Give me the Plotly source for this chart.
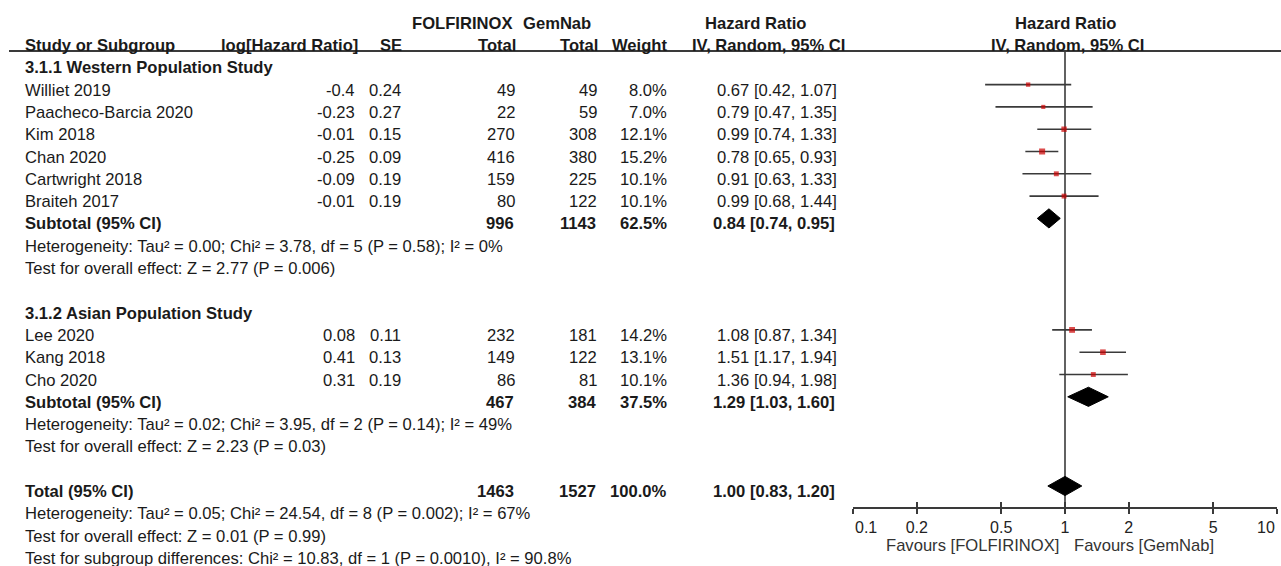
import math
import plotly.graph_objects as go

# ---------------- data ----------------
west_studies = ["Williet 2019", "Paacheco-Barcia 2020", "Kim 2018", "Chan 2020", "Cartwright 2018", "Braiteh 2017"]
west_loghr = [-0.4, -0.23, -0.01, -0.25, -0.09, -0.01]
west_se = [0.24, 0.27, 0.15, 0.09, 0.19, 0.19]
west_folf = [49, 22, 270, 416, 159, 80]
west_gem = [49, 59, 308, 380, 225, 122]
west_weight = [8.0, 7.0, 12.1, 15.2, 10.1, 10.1]
west_hr = [0.67, 0.79, 0.99, 0.78, 0.91, 0.99]
west_lo = [0.42, 0.47, 0.74, 0.65, 0.63, 0.68]
west_hi = [1.07, 1.35, 1.33, 0.93, 1.33, 1.44]

asia_studies = ["Lee 2020", "Kang 2018", "Cho 2020"]
asia_loghr = [0.08, 0.41, 0.31]
asia_se = [0.11, 0.13, 0.19]
asia_folf = [232, 149, 86]
asia_gem = [181, 122, 81]
asia_weight = [14.2, 13.1, 10.1]
asia_hr = [1.08, 1.51, 1.36]
asia_lo = [0.87, 1.17, 0.94]
asia_hi = [1.34, 1.94, 1.98]

group_titles = ["3.1.1 Western Population Study", "3.1.2 Asian Population Study"]
sub_folf = [996, 467]
sub_gem = [1143, 384]
sub_weight = [62.5, 37.5]
sub_hr = [0.84, 1.29]
sub_lo = [0.74, 1.03]
sub_hi = [0.95, 1.60]
sub_het = ["Heterogeneity: Tau² = 0.00; Chi² = 3.78, df = 5 (P = 0.58); I² = 0%",
           "Heterogeneity: Tau² = 0.02; Chi² = 3.95, df = 2 (P = 0.14); I² = 49%"]
sub_test = ["Test for overall effect: Z = 2.77 (P = 0.006)",
            "Test for overall effect: Z = 2.23 (P = 0.03)"]

total_folf = 1463
total_gem = 1527
total_weight = 100.0
total_hr = 1.00
total_lo = 0.83
total_hi = 1.20
total_notes = ["Heterogeneity: Tau² = 0.05; Chi² = 24.54, df = 8 (P = 0.002); I² = 67%",
               "Test for overall effect: Z = 0.01 (P = 0.99)",
               "Test for subgroup differences: Chi² = 10.83, df = 1 (P = 0.0010), I² = 90.8%"]

tick_vals = [0.1, 0.2, 0.5, 1, 2, 5, 10]
tick_text = ["0.1", "0.2", "0.5", "1", "2", "5", "10"]
favours_left = "Favours [FOLFIRINOX]"
favours_right = "Favours [GemNab]"

# ---------------- layout helpers ----------------
W, H = 1281, 566
ROW0, ROWH = 62.3, 22.3          # pixel y of row 0 and row spacing
FONT = "Arial, Liberation Sans, Helvetica, sans-serif"
FS = 16.6
TXT = "#1a1a1a"
LINE = "#3a3a3a"
TEXT_SHIFT = -5.5


def px(x):
    return x / W


def py(y):
    return 1 - y / H


annotations = []


def txt(text, x, row, anchor="left", bold=False, shift=TEXT_SHIFT):
    if bold:
        text = "<b>" + text + "</b>"
    annotations.append(dict(text=text, x=px(x), y=row, xref="paper", yref="y",
                            xanchor=anchor, yanchor="middle", showarrow=False,
                            yshift=shift, font=dict(family=FONT, size=FS, color=TXT)))


# column positions (pixels)
C_NAME, C_LOG, C_SE, C_FOLF, C_GEM, C_WT, C_HR = 23, 357, 403, 517, 599, 669, 839

# headers
txt("FOLFIRINOX", 514, -2, "right", True)
txt("GemNab", 593, -2, "right", True)
txt("Hazard Ratio", 755, -2, "center", True)
txt("Hazard Ratio", 1065, -2, "center", True)
txt("Study or Subgroup", C_NAME, -1, "left", True)
txt("log[Hazard Ratio]", 360, -1, "right", True)
txt("SE", 404, -1, "right", True)
txt("Total", 518, -1, "right", True)
txt("Total", 600, -1, "right", True)
txt("Weight", C_WT, -1, "right", True)
txt("IV, Random, 95% CI", 768, -1, "center", True)
txt("IV, Random, 95% CI", 1067, -1, "center", True)

groups = [
    (west_studies, west_loghr, west_se, west_folf, west_gem, west_weight, west_hr, west_lo, west_hi),
    (asia_studies, asia_loghr, asia_se, asia_folf, asia_gem, asia_weight, asia_hr, asia_lo, asia_hi),
]

study_rows, study_hr, study_lo, study_hi, study_wt = [], [], [], [], []
sub_rows = []
row = 0
for g, (names, lg, se, nf, ng, wt, hr, lo, hi) in enumerate(groups):
    txt(group_titles[g], C_NAME, row, "left", True)
    row += 1
    for i in range(len(names)):
        txt(names[i], C_NAME, row)
        txt(str(lg[i]), C_LOG, row, "right")
        txt(str(se[i]), C_SE, row, "right")
        txt(str(nf[i]), C_FOLF, row, "right")
        txt(str(ng[i]), C_GEM, row, "right")
        txt(f"{wt[i]:.1f}%", C_WT, row, "right")
        txt(f"{hr[i]:.2f} [{lo[i]:.2f}, {hi[i]:.2f}]", C_HR, row, "right")
        study_rows.append(row)
        study_hr.append(hr[i]); study_lo.append(lo[i]); study_hi.append(hi[i]); study_wt.append(wt[i])
        row += 1
    txt("Subtotal (95% CI)", C_NAME, row, "left", True)
    txt(str(sub_folf[g]), C_FOLF - 1, row, "right", True)
    txt(str(sub_gem[g]), C_GEM - 1, row, "right", True)
    txt(f"{sub_weight[g]:.1f}%", C_WT, row, "right", True)
    txt(f"{sub_hr[g]:.2f} [{sub_lo[g]:.2f}, {sub_hi[g]:.2f}]", C_HR - 2, row, "right", True)
    sub_rows.append(row)
    row += 1
    txt(sub_het[g], C_NAME, row)
    row += 1
    txt(sub_test[g], C_NAME, row)
    row += 2

total_row = row
txt("Total (95% CI)", C_NAME, row, "left", True)
txt(str(total_folf), C_FOLF - 1, row, "right", True)
txt(str(total_gem), C_GEM - 1, row, "right", True)
txt(f"{total_weight:.1f}%", C_WT, row, "right", True)
txt(f"{total_hr:.2f} [{total_lo:.2f}, {total_hi:.2f}]", C_HR - 2, row, "right", True)
for note in total_notes:
    row += 1
    txt(note, C_NAME, row)

# favours labels
for text, x, anc in [(favours_left, 1061, "right"), (favours_right, 1072, "left")]:
    annotations.append(dict(text=text, x=px(x), y=py(545), xref="paper", yref="paper",
                            xanchor=anc, yanchor="middle", showarrow=False,
                            font=dict(family=FONT, size=FS, color="#333333")))

# end tick labels are pulled inside the axis ends (left-aligned / right-aligned at the tick)
TICK_FS = 16
for val, lab, anc in [(tick_vals[0], tick_text[0], "left"), (tick_vals[-1], tick_text[-1], "right")]:
    annotations.append(dict(text=lab, x=math.log10(val), y=py(527), xref="x", yref="paper",
                            xanchor=anc, yanchor="middle", showarrow=False,
                            font=dict(family=FONT, size=TICK_FS, color="#222222")))
axis_ticktext = [""] + tick_text[1:-1] + [""]

fig = go.Figure()

# reference line at HR = 1
fig.add_trace(go.Scatter(x=[1, 1], y=[(51 - ROW0) / ROWH, (508 - ROW0) / ROWH], mode="lines",
                         line=dict(color=LINE, width=1.6), hoverinfo="skip", cliponaxis=False))

# CI lines
cx, cy = [], []
for r, lo, hi in zip(study_rows, study_lo, study_hi):
    cx += [lo, hi, None]
    cy += [r, r, None]
fig.add_trace(go.Scatter(x=cx, y=cy, mode="lines", line=dict(color=LINE, width=1.6),
                         hoverinfo="skip"))

# squares
fig.add_trace(go.Scatter(x=study_hr, y=study_rows, mode="markers",
                         marker=dict(symbol="square", color="#cc0000",
                                     size=[1.55 * w ** 0.5 for w in study_wt],
                                     line=dict(width=0))))

# diamonds
dx, dy = [], []
HALF = 0.43
for r, hr, lo, hi in zip(sub_rows + [total_row], sub_hr + [total_hr], sub_lo + [total_lo], sub_hi + [total_hi]):
    dx += [lo, hr, hi, hr, lo, None]
    dy += [r, r - HALF, r, r + HALF, r, None]
fig.add_trace(go.Scatter(x=dx, y=dy, mode="lines", fill="toself", fillcolor="black",
                         line=dict(color="black", width=1), hoverinfo="skip"))

# inner tick half (invisible trace to hold the overlay axis)
fig.add_trace(go.Scatter(x=[1], y=[0], xaxis="x2", mode="markers", marker=dict(opacity=0),
                         hoverinfo="skip"))

axpos = py(508)
dom = [px(853), px(1277)]
common = dict(type="log", range=[-1, 1], domain=dom, anchor="free", position=axpos,
              showgrid=False, zeroline=False, showline=True, linecolor=LINE, linewidth=1.6,
              tickmode="array", tickvals=tick_vals, tickwidth=1.6, tickcolor=LINE,
              ticklen=5, fixedrange=True, automargin=False)

fig.update_layout(
    width=W, height=H, margin=dict(l=0, r=0, t=0, b=0, pad=0, autoexpand=False),
    paper_bgcolor="white", plot_bgcolor="white", showlegend=False,
    xaxis=dict(**common, ticks="outside", ticktext=axis_ticktext,
               tickfont=dict(family=FONT, size=TICK_FS, color="#222222")),
    xaxis2=dict(**common, ticks="inside", overlaying="x", showticklabels=False),
    yaxis=dict(range=[(H - ROW0) / ROWH, -ROW0 / ROWH], domain=[0, 1], visible=False,
               fixedrange=True, automargin=False),
    annotations=annotations,
    shapes=[dict(type="line", xref="paper", yref="paper", x0=px(9), x1=1,
                 y0=py(51), y1=py(51), line=dict(color=LINE, width=2))],
)

fig.write_html("out.html", config={"displayModeBar": False})
